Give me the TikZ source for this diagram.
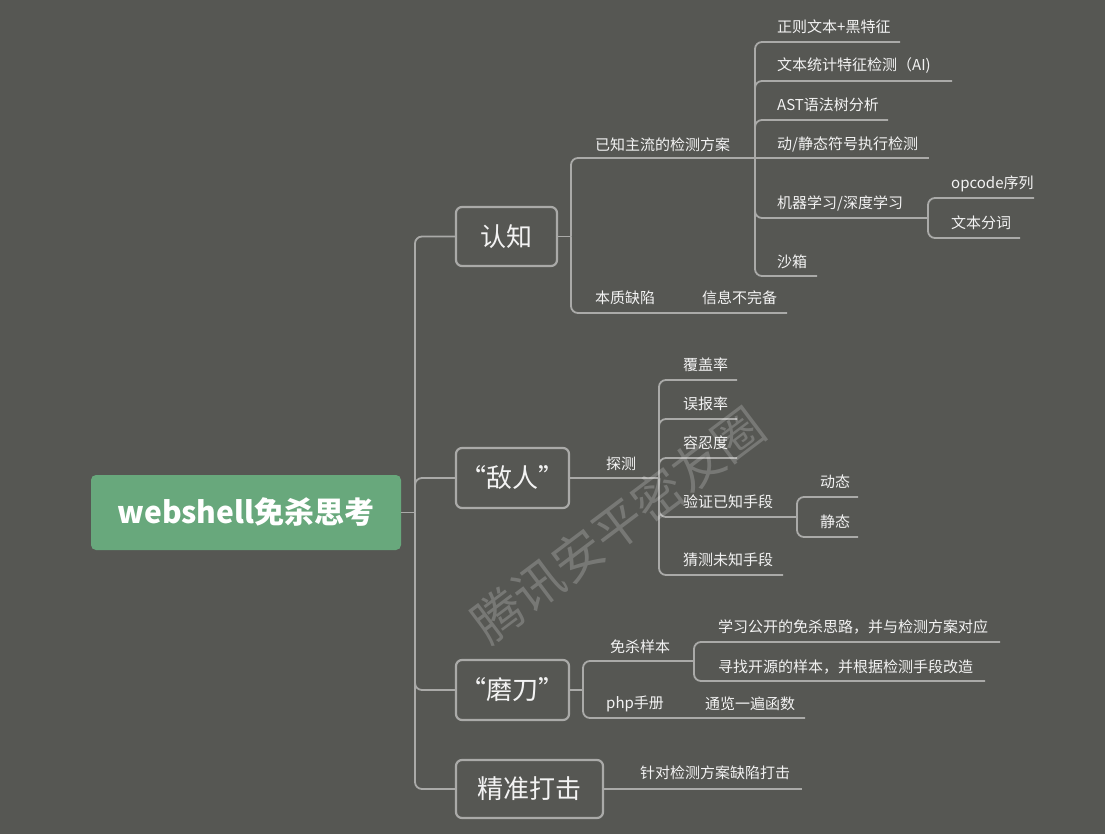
\documentclass[tikz,border=0pt]{standalone}
\usepackage{fontspec}
\setmainfont{Noto Sans CJK SC}
\definecolor{bg}{RGB}{86,87,83}
\definecolor{ln}{RGB}{170,170,168}
\definecolor{tx}{RGB}{243,243,243}
\definecolor{rootg}{RGB}{104,168,124}
\begin{document}
\begin{tikzpicture}[x=1pt,y=-1pt,
  conn/.style={draw=ln,line width=1.8pt,rounded corners=7pt},
  topbox/.style={draw=ln,line width=2.2pt,rounded corners=6pt,fill=bg,text=tx,font=\fontsize{26}{30}\selectfont,inner sep=0pt},
  rootbox/.style={fill=rootg,rounded corners=5pt,text=white,font=\fontsize{30}{36}\selectfont\bfseries,inner sep=0pt},
  lbl/.style={anchor=west,inner sep=0pt,text=tx,font=\fontsize{15}{18}\selectfont},
  wmark/.style={rotate=37,text=white,opacity=0.2,font=\fontsize{50}{50}\selectfont,inner sep=0pt}
]
\fill[bg] (0,0) rectangle (1105,834);
\useasboundingbox (0,0) rectangle (1105,834);

% root and main branches
\node[rootbox,minimum width=310pt,minimum height=75pt] (root) at (246,512.5) {webshell免杀思考};
\node[topbox,minimum width=101pt,minimum height=59pt] (rz) at (506.5,236.5) {认知};
\node[topbox,minimum width=113pt,minimum height=60pt] (dr) at (512.5,478) {“敌人”};
\node[topbox,minimum width=113pt,minimum height=60pt] (md) at (512.5,690) {“磨刀”};
\node[topbox,minimum width=147pt,minimum height=58pt] (jz) at (529.5,789) {精准打击};

\coordinate (t0) at (415,512.5);
\draw[conn] (root.east) -- (t0);
\draw[conn] (t0) |- (rz.west);
\draw[conn] (t0) |- (dr.west);
\draw[conn] (t0) |- (md.west);
\draw[conn] (t0) |- (jz.west);

% 认知
\coordinate (t1) at (571,236.5);
\draw[conn] (rz.east) -- (t1);
\node[lbl] (yz) at (595,145) {已知主流的检测方案};
\coordinate (t2) at (755,158);
\draw[conn] (t1) |- (t2);
\node[lbl] (bz) at (595,298) {本质缺陷};
\node[lbl] (xx) at (702,298) {信息不完备};
\coordinate (xxe) at (787,313);
\draw[conn] (t1) |- (xxe);

\node[lbl] (a1) at (777,27) {正则文本+黑特征};
\coordinate (a1e) at (900,42);
\draw[conn] (t2) |- (a1e);
\node[lbl] (a2) at (777,66) {文本统计特征检测（AI)};
\coordinate (a2e) at (952,81);
\draw[conn] (t2) |- (a2e);
\node[lbl] (a3) at (777,105) {AST语法树分析};
\coordinate (a3e) at (888,120);
\draw[conn] (t2) |- (a3e);
\node[lbl] (a4) at (777,144) {动/静态符号执行检测};
\coordinate (a4e) at (929,158);
\draw[conn] (t2) -- (a4e);
\node[lbl] (a5) at (777,203) {机器学习/深度学习};
\coordinate (t3) at (928,218);
\draw[conn] (t2) |- (t3);
\node[lbl] (b1) at (951,184) {opcode序列};
\coordinate (b1e) at (1034,198);
\draw[conn] (t3) |- (b1e);
\node[lbl] (b2) at (951,223) {文本分词};
\coordinate (b2e) at (1020,238);
\draw[conn] (t3) |- (b2e);
\node[lbl] (a6) at (777,262) {沙箱};
\coordinate (a6e) at (817,276);
\draw[conn] (t2) |- (a6e);

% 敌人
\node[lbl] (tc) at (606,464) {探测};
\coordinate (t4) at (659,478);
\draw[conn] (dr.east) -- (t4);
\node[lbl] (c1) at (683,365) {覆盖率};
\coordinate (c1e) at (737,380);
\draw[conn] (t4) |- (c1e);
\node[lbl] (c2) at (683,404) {误报率};
\coordinate (c2e) at (737,419);
\draw[conn] (t4) |- (c2e);
\node[lbl] (c3) at (683,443) {容忍度};
\coordinate (c3e) at (737,458);
\draw[conn] (t4) |- (c3e);
\node[lbl] (c4) at (683,502) {验证已知手段};
\coordinate (t5) at (797,517);
\draw[conn] (t4) |- (t5);
\node[lbl] (d1) at (820,482) {动态};
\coordinate (d1e) at (858,497);
\draw[conn] (t5) |- (d1e);
\node[lbl] (d2) at (820,522) {静态};
\coordinate (d2e) at (858,537);
\draw[conn] (t5) |- (d2e);
\node[lbl] (c5) at (683,560) {猜测未知手段};
\coordinate (c5e) at (783,575);
\draw[conn] (t4) |- (c5e);

% 磨刀
\coordinate (t6) at (583,690);
\draw[conn] (md.east) -- (t6);
\node[lbl] (e1) at (610,647) {免杀样本};
\coordinate (t7) at (694,661);
\draw[conn] (t6) |- (t7);
\node[lbl] (f1) at (718,627) {学习公开的免杀思路，并与检测方案对应};
\coordinate (f1e) at (1000,642);
\draw[conn] (t7) |- (f1e);
\node[lbl] (f2) at (718,667) {寻找开源的样本，并根据检测手段改造};
\coordinate (f2e) at (985,681);
\draw[conn] (t7) |- (f2e);
\node[lbl] (e2) at (606,704) {php手册};
\node[lbl] (e3) at (705,704) {通览一遍函数};
\coordinate (e3e) at (805,718);
\draw[conn] (t6) |- (e3e);

% 精准打击
\node[lbl] (g1) at (640,773) {针对检测方案缺陷打击};
\coordinate (g1e) at (802,789);
\draw[conn] (jz.east) -- (g1e);

% watermark
\node[wmark] (wm) at (618,525) {腾讯安平密友圈};
\end{tikzpicture}
\end{document}
